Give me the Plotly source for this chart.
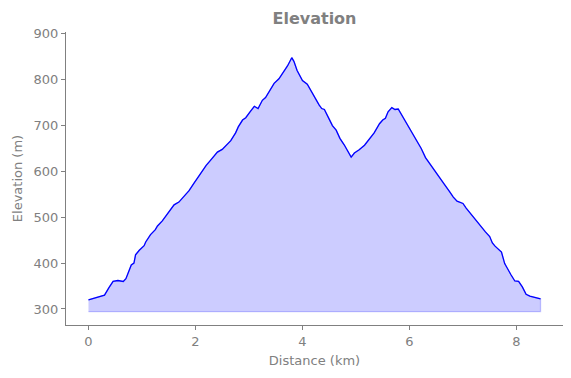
import plotly.graph_objects as go

distance_km = [0, 0.1, 0.2, 0.3, 0.38, 0.46, 0.55, 0.65, 0.7, 0.8, 0.85, 0.88, 0.95, 1.04, 1.07,
               1.16, 1.25, 1.29, 1.38, 1.44, 1.52, 1.6, 1.69, 1.78, 1.88, 1.97, 2.05, 2.13, 2.2,
               2.28, 2.35, 2.41, 2.5, 2.6, 2.66, 2.75, 2.8, 2.88, 2.94, 3.02, 3.1, 3.17, 3.25,
               3.31, 3.4, 3.47, 3.56, 3.64, 3.72, 3.8, 3.84, 3.9, 3.94, 4.0, 4.09, 4.19, 4.25,
               4.31, 4.36, 4.41, 4.5, 4.56, 4.63, 4.7, 4.78, 4.84, 4.91, 4.97, 5.06, 5.16, 5.25,
               5.34, 5.44, 5.5, 5.55, 5.6, 5.67, 5.73, 5.79, 5.87, 5.94, 6.0, 6.09, 6.15, 6.22,
               6.3, 6.37, 6.46, 6.56, 6.65, 6.75, 6.82, 6.89, 7.0, 7.06, 7.12, 7.22, 7.28, 7.34,
               7.42, 7.5, 7.55, 7.6, 7.66, 7.72, 7.78, 7.84, 7.9, 7.97, 8.04, 8.11, 8.18, 8.25,
               8.31, 8.38, 8.45]
elevation_m = [320, 323, 326, 330, 346, 360, 362, 360, 366, 396, 400, 418, 428, 438, 446,
               462, 473, 481, 492, 501, 514, 527, 533, 545, 558, 574, 588, 600, 613,
               624, 635, 642, 648, 660, 667, 684, 697, 712, 717, 730, 742, 737, 755,
               761, 778, 792, 802, 816, 830, 848, 840, 820, 812, 798, 790, 768, 757,
               745, 737, 735, 714, 700, 690, 672, 658, 646, 631, 640, 647, 657, 670,
               684, 704, 712, 716, 730, 739, 735, 736, 720, 706, 694, 676, 663, 650,
               630, 618, 603, 588, 572, 556, 544, 535, 530, 520, 511, 497, 488, 479,
               468, 458, 444, 437, 430, 424, 399, 388, 374, 361, 360, 348, 332, 328,
               326, 324, 322]
fill_base = 294
x_ticks = [0, 2, 4, 6, 8]
y_ticks = [300, 400, 500, 600, 700, 800, 900]

gray = "#808080"
font = "DejaVu Sans"

fig = go.Figure()
# filled area (polygon closed down to the baseline)
fig.add_trace(go.Scatter(
    x=distance_km + [distance_km[-1], distance_km[0]],
    y=elevation_m + [fill_base, fill_base],
    fill="toself", fillcolor="rgba(0,0,255,0.2)",
    line=dict(color="rgba(0,0,255,0.2)", width=1.3),
    mode="lines", hoverinfo="skip", showlegend=False))
fig.add_trace(go.Scatter(
    x=distance_km, y=elevation_m, mode="lines",
    line=dict(color="#0000ff", width=1.3), showlegend=False))

fig.update_layout(
    width=571, height=378,
    margin=dict(l=66, r=8, t=32, b=53, autoexpand=False),
    paper_bgcolor="white", plot_bgcolor="white",
    font=dict(family=font, color=gray, size=13),
    title=dict(text="<b>Elevation</b>", x=(66 + 563) / 2 / 571, xanchor="center",
               y=1 - 18 / 378, yanchor="middle",
               font=dict(family=font, size=16, color=gray)),
)
fig.update_xaxes(
    range=[-0.42, 8.87], tickvals=x_ticks, ticktext=[str(v) for v in x_ticks],
    showgrid=False, zeroline=False, showline=True, linecolor=gray, linewidth=1,
    ticks="outside", ticklen=4, tickcolor=gray, tickfont=dict(size=13, color=gray),
    automargin=True,
    title=dict(text="Distance (km)", font=dict(size=13, color=gray), standoff=8),
)
fig.update_yaxes(
    range=[265, 904], tickvals=y_ticks, ticktext=[str(v) for v in y_ticks],
    showgrid=False, zeroline=False, showline=True, linecolor=gray, linewidth=1,
    ticks="outside", ticklen=4, tickcolor=gray, tickfont=dict(size=13, color=gray),
    automargin=True,
    title=dict(text="Elevation (m)", font=dict(size=13, color=gray), standoff=8),
)

fig.write_html("out.html", config={"displayModeBar": False},
               post_script="document.body.style.margin='0';")
